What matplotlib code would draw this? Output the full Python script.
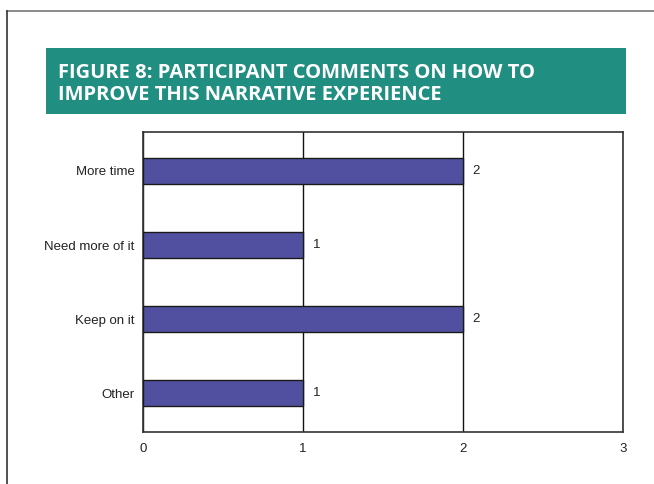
import matplotlib.pyplot as plt
from matplotlib.patches import Rectangle

# participant comments, top to bottom
categories = ['More time', 'Need more of it', 'Keep on it', 'Other']
counts = [2, 1, 2, 1]
x_ticks = [0, 1, 2, 3]

title = 'FIGURE 8: PARTICIPANT COMMENTS ON HOW TO\nIMPROVE THIS NARRATIVE EXPERIENCE'

plt.rcParams['font.family'] = ['Liberation Sans', 'DejaVu Sans']

W, H = 654, 484
fig = plt.figure(figsize=(W / 100, H / 100), dpi=100)

# page frame: top and left rules only
fig.add_artist(plt.Line2D([7 / W, 1], [1 - 11 / H, 1 - 11 / H], color='#777777', lw=1.2))
fig.add_artist(plt.Line2D([7 / W, 7 / W], [0, 1 - 11 / H], color='#333333', lw=1.2))

# teal title banner
fig.add_artist(Rectangle((46 / W, 1 - 114 / H), 580 / W, 66 / H,
                         transform=fig.transFigure, facecolor='#208E80', edgecolor='none'))
fig.text(58 / W, 1 - 84 / H, title, color='white', fontsize=14.5, fontweight='bold',
         family='Open Sans', va='center', ha='left', linespacing=1.2)

ax = fig.add_axes([143 / W, 1 - 432 / H, 480 / W, 300 / H])
y = list(range(len(categories)))
ax.barh(y, counts, height=0.35, color='#5150A0', edgecolor='#1a1a1a', linewidth=1, zorder=3)
for yi, c in zip(y, counts):
    ax.text(c + 0.06, yi, str(c), va='center', ha='left', fontsize=9.5, color='#222222')

ax.set_xlim(0, 3)
ax.set_ylim(len(categories) - 0.48, -0.525)
ax.set_xticks(x_ticks)
ax.set_yticks(y)
ax.set_yticklabels(categories)
ax.tick_params(length=0, labelsize=9.5, colors='#222222')
ax.tick_params(axis='x', pad=8)
ax.tick_params(axis='y', pad=6)
ax.grid(axis='x', color='#111111', lw=1, zorder=1)
for s in ax.spines.values():
    s.set_color('#333333')
    s.set_linewidth(1.2)

fig.savefig('out.png', dpi=100)
